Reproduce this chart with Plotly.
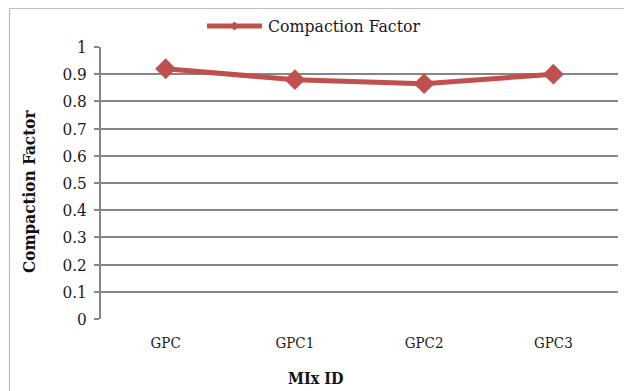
import plotly.graph_objects as go

# Compaction factor measured for each mix
mix_ids = ["GPC", "GPC1", "GPC2", "GPC3"]
compaction_factor = [0.92, 0.88, 0.865, 0.90]
y_ticks = [0, 0.1, 0.2, 0.3, 0.4, 0.5, 0.6, 0.7, 0.8, 0.9, 1]
y_tick_text = ["0", "0.1", "0.2", "0.3", "0.4", "0.5", "0.6", "0.7", "0.8", "0.9", "1"]

W, H = 627, 391
L, R, T, B = 101, 9, 47, 72
PW, PH = W - L - R, H - T - B

def px(x):
    return (x - L) / PW

def py(y):
    return (H - B - y) / PH

RED = "#C0504D"
GRID = "#868686"
FONT = "DejaVu Serif Condensed, DejaVu Serif"

fig = go.Figure()
fig.add_trace(go.Scatter(
    x=mix_ids, y=compaction_factor, mode="lines+markers",
    name="Compaction Factor",
    line=dict(color=RED, width=5),
    marker=dict(symbol="diamond", size=16, color=RED),
    showlegend=False,
))

shapes = [
    # outer chart border (left and top edges)
    dict(type="line", xref="paper", yref="paper", x0=px(9.5), x1=px(9.5), y0=py(8.5), y1=py(H + 2),
         line=dict(color="#BFBFBF", width=1.2)),
    dict(type="line", xref="paper", yref="paper", x0=px(9.5), x1=px(624), y0=py(8.5), y1=py(8.5),
         line=dict(color="#BFBFBF", width=1.2)),
    # legend key
    dict(type="line", xref="paper", yref="paper", x0=px(207), x1=px(262), y0=py(26), y1=py(26),
         line=dict(color=RED, width=5)),
    dict(type="path", xref="paper", yref="paper",
         path=f"M {px(230)},{py(26)} L {px(234.5)},{py(21.5)} L {px(239)},{py(26)} L {px(234.5)},{py(30.5)} Z",
         fillcolor=RED, line=dict(color=RED, width=0)),
]

annotations = [
    dict(text="Compaction Factor", xref="paper", yref="paper", x=px(266), y=py(26),
         xanchor="left", yanchor="middle", showarrow=False,
         font=dict(family=FONT, size=17.5, color="#1a1a1a")),
    dict(text="<b>MIx ID</b>", xref="paper", yref="paper", x=px(315), y=py(378),
         xanchor="center", yanchor="middle", showarrow=False,
         font=dict(family=FONT, size=16, color="#111111")),
    dict(text="<b>Compaction Factor</b>", xref="paper", yref="paper", x=px(29), y=py(192),
         xanchor="center", yanchor="middle", showarrow=False, textangle=-90,
         font=dict(family=FONT, size=17, color="#111111")),
]

fig.update_layout(
    width=W, height=H,
    margin=dict(l=L, r=R, t=T, b=B),
    paper_bgcolor="white", plot_bgcolor="white",
    font=dict(family=FONT, size=16, color="#1a1a1a"),
    shapes=shapes, annotations=annotations,
    xaxis=dict(
        type="category", range=[-0.5, 3.5],
        showgrid=False, showline=False, zeroline=False,
        ticks="", tickfont=dict(size=15), ticklabelstandoff=13,
    ),
    yaxis=dict(
        range=[0, 1], tickvals=y_ticks, ticktext=y_tick_text,
        showgrid=True, gridcolor=GRID, gridwidth=1.6,
        showline=True, linecolor=GRID, linewidth=1.6,
        zeroline=False,
        ticks="outside", ticklen=5, tickcolor=GRID, tickwidth=1.6,
        tickfont=dict(size=17), ticklabelstandoff=4,
    ),
)

fig.write_html("out.html")
